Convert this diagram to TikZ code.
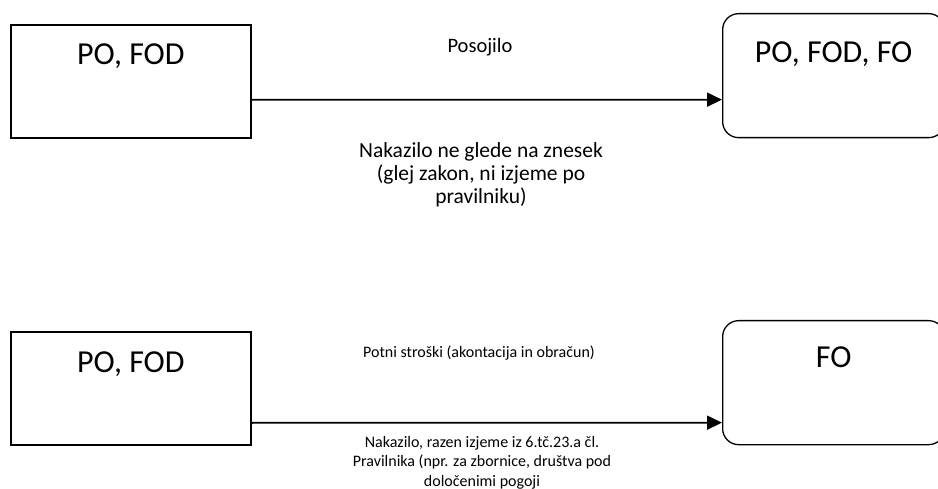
\documentclass[tikz,border=0pt]{standalone}
\usepackage{fontspec}
\setmainfont{Carlito}
\usetikzlibrary{arrows.meta}
\begin{document}
\begin{tikzpicture}[x=1pt, y=-1pt,
		payer/.style = {shape=rectangle, draw, line width=1.7pt, inner sep=0pt,
			minimum width=240pt, anchor=north west, font=\fontsize{32}{36}\selectfont},
		receiver/.style = {shape=rectangle, rounded corners=16pt, draw, line width=1.3pt,
			inner sep=0pt, minimum width=222pt, anchor=north west, font=\fontsize{32}{36}\selectfont},
		flow/.style = {line width=1.8pt, -{Triangle[length=15pt,width=14pt]}},
		note/.style = {inner sep=0pt, align=center}]
		\useasboundingbox (0,0) rectangle (938,489);
		\node[payer, text height=40pt, text depth=73pt] (po1) at (10,24) {PO, FOD};
		\node[receiver, text height=49pt, text depth=75pt] (fo1) at (722,13) {PO, FOD, FO};
		\draw[flow] ([yshift=-18.5pt]po1.east) -- ([yshift=-24pt]fo1.west);
		\node[note, anchor=base, font=\fontsize{20.5}{23}\selectfont] (loan) at (480,53) {Posojilo};
		\node[note, anchor=north, font=\fontsize{21.5}{23}\selectfont] (transfer1) at (481,142)
			{Nakazilo ne glede na znesek\\(glej zakon, ni izjeme po\\pravilniku)};
		\node[payer, text height=41pt, text depth=72pt] (po2) at (10,331) {PO, FOD};
		\node[receiver, text height=47pt, text depth=77pt] (fo2) at (722,320) {FO};
		\draw[flow] ([yshift=-34.5pt]po2.east) -- ([yshift=-40pt]fo2.west);
		\node[note, anchor=base, font=\fontsize{16}{19.5}\selectfont] (travel) at (479,358)
			{Potni stroški (akontacija in obračun)};
		\node[note, anchor=north, font=\fontsize{16}{19.5}\selectfont] (transfer2) at (482,436)
			{Nakazilo, razen izjeme iz 6.tč.23.a čl.\\Pravilnika (npr. za zbornice, društva pod\\določenimi pogoji};
	\end{tikzpicture}
\end{document}
